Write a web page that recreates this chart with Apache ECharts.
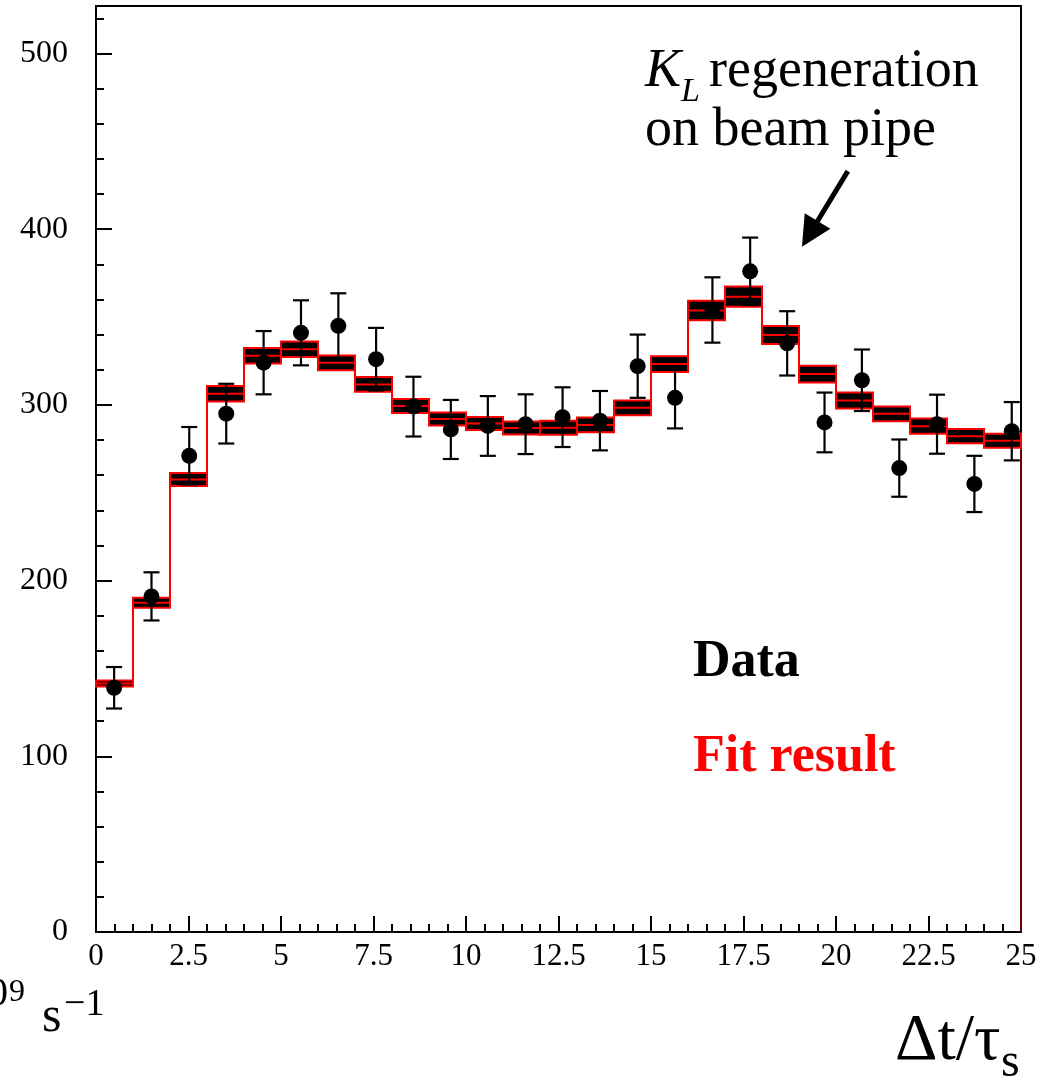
<!DOCTYPE html>
<html>
<head>
<meta charset="utf-8">
<script src="https://cdn.jsdelivr.net/npm/echarts@6/dist/echarts.min.js"></script>
<style>
  html, body { margin: 0; padding: 0; background: #fff; }
  #chart { width: 1051px; height: 1080px; }
</style>
</head>
<body>
<div id="chart"></div>
<script>
// Δt/τS distribution: measured counts with Poisson errors and the fitted histogram
const binCenters = [0.5, 1.5, 2.5, 3.5, 4.5, 5.5, 6.5, 7.5, 8.5, 9.5, 10.5, 11.5, 12.5,
                    13.5, 14.5, 15.5, 16.5, 17.5, 18.5, 19.5, 20.5, 21.5, 22.5, 23.5, 24.5];
const binWidth = 1;

// data points sit on their own (slightly wider) binning
const dataX = [0.49, 1.50, 2.52, 3.52, 4.53, 5.54, 6.55, 7.57, 8.58, 9.59, 10.59, 11.61, 12.61,
               13.62, 14.64, 15.65, 16.66, 17.68, 18.68, 19.69, 20.70, 21.71, 22.73, 23.74, 24.75];
const dataCounts = [139, 191, 271, 295, 324, 341, 345, 326, 299, 286, 288, 289, 293,
                    291, 322, 304, 354, 376, 335, 290, 314, 264, 289, 255, 285];
const dataErrors = [11.8, 13.7, 16.4, 17.0, 18.0, 18.5, 18.5, 17.8, 17.0, 16.8, 17.0, 17.0, 17.0,
                    16.9, 18.0, 17.4, 18.6, 19.2, 18.3, 17.0, 17.5, 16.3, 16.8, 16.0, 16.6];

const fitValues = [141.4, 187.4, 257.5, 306.3, 327.9, 331.7, 323.9, 311.6, 299.3, 292.0, 289.4, 286.9, 287.0,
                   288.6, 298.3, 323.2, 353.7, 361.6, 339.8, 317.5, 302.5, 294.9, 287.9, 282.2, 279.6];
const fitErrors = [1.7, 2.8, 3.7, 4.4, 4.4, 4.4, 4.2, 4.2, 4.0, 3.7, 3.7, 3.7, 4.0,
                   4.2, 4.2, 4.5, 5.6, 5.8, 5.1, 4.8, 4.6, 4.2, 4.3, 4.0, 4.0];

// axis ranges and tick spacing
const xRange = [0, 25];
const yRange = [0, 527];
const xMajor = 2.5, xMinorSplit = 5;
const yMajor = 100, yMinor = 20;

// arrow pointing at the regeneration bump (data coordinates: tail x, tail y, head x, head y)
const arrow = [20.32, 433, 19.08, 390];

const FONT = "'Liberation Serif', 'Times New Roman', serif";

// step outline of the fit histogram, built from the bin edges
const stepLine = [];
binCenters.forEach((c, i) => {
  stepLine.push([c - binWidth / 2, fitValues[i]]);
  stepLine.push([c + binWidth / 2, fitValues[i]]);
});
const lastEdge = binCenters[binCenters.length - 1] + binWidth / 2;
const dropLine = [[lastEdge, fitValues[fitValues.length - 1]], [lastEdge, 0]];

const fitBand = binCenters.map((c, i) => [c, fitValues[i], fitErrors[i]]);
const points = dataX.map((x, i) => [x, dataCounts[i], dataErrors[i]]);

function renderFitBox(params, api) {
  const c = api.value(0), v = api.value(1), e = api.value(2);
  const tl = api.coord([c - binWidth / 2, v + e]);
  const br = api.coord([c + binWidth / 2, v - e]);
  const mid = api.coord([c, v]);
  return {
    type: 'group',
    children: [
      { type: 'rect',
        shape: { x: tl[0], y: tl[1], width: br[0] - tl[0], height: br[1] - tl[1] },
        style: { fill: '#000', stroke: '#ff0000', lineWidth: 2 } },
      { type: 'line',
        shape: { x1: tl[0], y1: mid[1], x2: br[0], y2: mid[1] },
        style: { stroke: '#ff0000', lineWidth: 2 } }
    ]
  };
}

function renderErrorBar(params, api) {
  const c = api.value(0), v = api.value(1), e = api.value(2);
  const hi = api.coord([c, v + e]);
  const lo = api.coord([c, v - e]);
  const cap = 8;
  const st = { stroke: '#000', lineWidth: 2.2 };
  return {
    type: 'group',
    children: [
      { type: 'line', shape: { x1: hi[0], y1: hi[1], x2: lo[0], y2: lo[1] }, style: st },
      { type: 'line', shape: { x1: hi[0] - cap, y1: hi[1], x2: hi[0] + cap, y2: hi[1] }, style: st },
      { type: 'line', shape: { x1: lo[0] - cap, y1: lo[1], x2: lo[0] + cap, y2: lo[1] }, style: st }
    ]
  };
}

// thick arrow with a filled triangular head
function renderArrow(params, api) {
  const t = api.coord([api.value(0), api.value(1)]);
  const h = api.coord([api.value(2), api.value(3)]);
  const dx = h[0] - t[0], dy = h[1] - t[1];
  const len = Math.sqrt(dx * dx + dy * dy);
  const ux = dx / len, uy = dy / len;
  const headLen = 30, headHalf = 15;
  const bx = h[0] - ux * headLen, by = h[1] - uy * headLen;
  return {
    type: 'group',
    children: [
      { type: 'line', shape: { x1: t[0], y1: t[1], x2: bx + ux * 4, y2: by + uy * 4 },
        style: { stroke: '#000', lineWidth: 5 } },
      { type: 'polygon',
        shape: { points: [[h[0], h[1]], [bx - uy * headHalf, by + ux * headHalf], [bx + uy * headHalf, by - ux * headHalf]] },
        style: { fill: '#000' } }
    ]
  };
}

// text placed by its baseline
function styledText(x, baseline, str, size, fontStyle, color, align) {
  return {
    type: 'text', x: x, y: baseline - 0.33 * size, z: 100,
    style: { text: str, font: (fontStyle ? fontStyle + ' ' : '') + size + 'px ' + FONT,
             fill: color || '#000', align: align || 'left', verticalAlign: 'middle' }
  };
}

const chart = echarts.init(document.getElementById('chart'), null, { renderer: 'canvas' });

const tickLine = { color: '#000', width: 2 };

chart.setOption({
  animation: false,
  backgroundColor: '#fff',
  grid: { left: 96, right: 30, top: 6, bottom: 148, show: true,
          borderColor: '#000', borderWidth: 2, backgroundColor: 'transparent' },
  xAxis: {
    type: 'value', min: xRange[0], max: xRange[1], interval: xMajor,
    axisLine: { show: true, onZero: false, lineStyle: tickLine },
    axisTick: { show: true, inside: true, length: 16, lineStyle: tickLine },
    minorTick: { show: true, splitNumber: xMinorSplit, length: 8, lineStyle: tickLine },
    splitLine: { show: false },
    axisLabel: { fontFamily: FONT, fontSize: 31, color: '#000', margin: 9,
                 showMinLabel: true, showMaxLabel: true }
  },
  yAxis: [{
    type: 'value', min: yRange[0], max: yRange[1], interval: yMajor,
    axisLine: { show: true, onZero: false, lineStyle: tickLine },
    axisTick: { show: true, inside: true, length: 16, lineStyle: tickLine },
    splitLine: { show: false },
    axisLabel: { fontFamily: FONT, fontSize: 32, color: '#000', margin: 28,
                 formatter: v => (v % yMajor === 0 ? String(v) : '') }
  }, {
    type: 'value', min: yRange[0], max: yRange[1], interval: yMinor, position: 'left',
    axisLine: { show: false },
    axisTick: { show: true, inside: true, length: 8, lineStyle: tickLine },
    splitLine: { show: false },
    axisLabel: { show: false }
  }],
  series: [
    { type: 'line', data: stepLine, symbol: 'none', z: 2,
      lineStyle: { color: '#ff0000', width: 2 }, silent: true },
    { type: 'line', data: dropLine, symbol: 'none', z: 2,
      lineStyle: { color: '#6a0000', width: 2 }, silent: true },
    { type: 'custom', data: fitBand, renderItem: renderFitBox, z: 3,
      encode: { x: 0, y: 1 }, silent: true },
    { type: 'custom', data: points, renderItem: renderErrorBar, z: 4,
      encode: { x: 0, y: 1 }, silent: true },
    { type: 'scatter', data: points.map(p => [p[0], p[1]]), symbol: 'circle', symbolSize: 16,
      itemStyle: { color: '#000', opacity: 1 }, z: 5, silent: true },
    { type: 'custom', data: [arrow], renderItem: renderArrow, z: 6,
      encode: { x: [0, 2], y: [1, 3] }, silent: true }
  ],
  graphic: [
    styledText(645, 90, 'K', 54, 'italic'),
    styledText(681, 103, 'L', 34, 'italic'),
    styledText(709, 90, 'regeneration', 54),
    styledText(645, 149, 'on beam pipe', 54),
    styledText(693, 680, 'Data', 52, 'bold'),
    styledText(693, 775, 'Fit result', 52, 'bold', '#ff0000'),
    // axis titles
    styledText(895, 1063, 'Δt/τ', 66),
    styledText(1001, 1079, 's', 48),
    styledText(8, 1008, '10', 40, '', '#000', 'right'),
    styledText(9, 1003, '9', 32),
    styledText(42, 1034, 's', 50),
    styledText(64, 1018, '−1', 38)
  ]
});
</script>
</body>
</html>
